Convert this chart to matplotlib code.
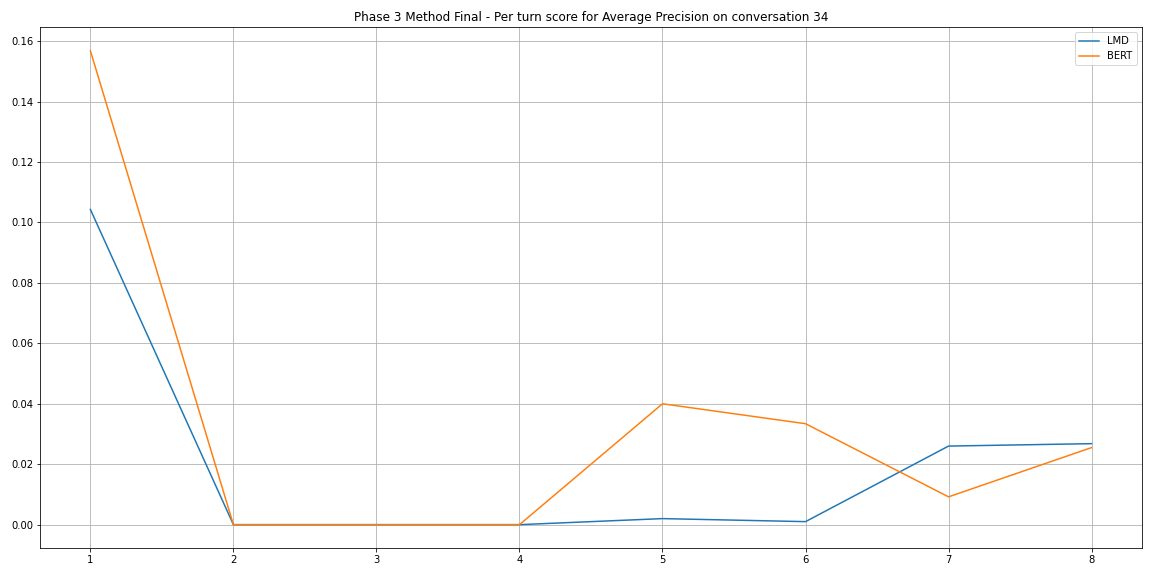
import matplotlib
matplotlib.use("Agg")
import matplotlib.pyplot as plt

turns = [1, 2, 3, 4, 5, 6, 7, 8]
lmd = [0.1043, 0.0, 0.0, 0.0, 0.002, 0.001, 0.0260, 0.0268]
bert = [0.1568, 0.0, 0.0, 0.0, 0.0400, 0.0334, 0.0092, 0.0255]

fig, ax = plt.subplots(figsize=(16, 8), dpi=72)
fig.subplots_adjust(left=0.035, right=0.991, top=0.953, bottom=0.048)
ax.plot(turns, lmd, label="LMD")
ax.plot(turns, bert, label="BERT")
ax.set_title("Phase 3 Method Final - Per turn score for Average Precision on conversation 34")
ax.grid(True)
ax.legend(loc="upper right")
fig.savefig("out.png")
